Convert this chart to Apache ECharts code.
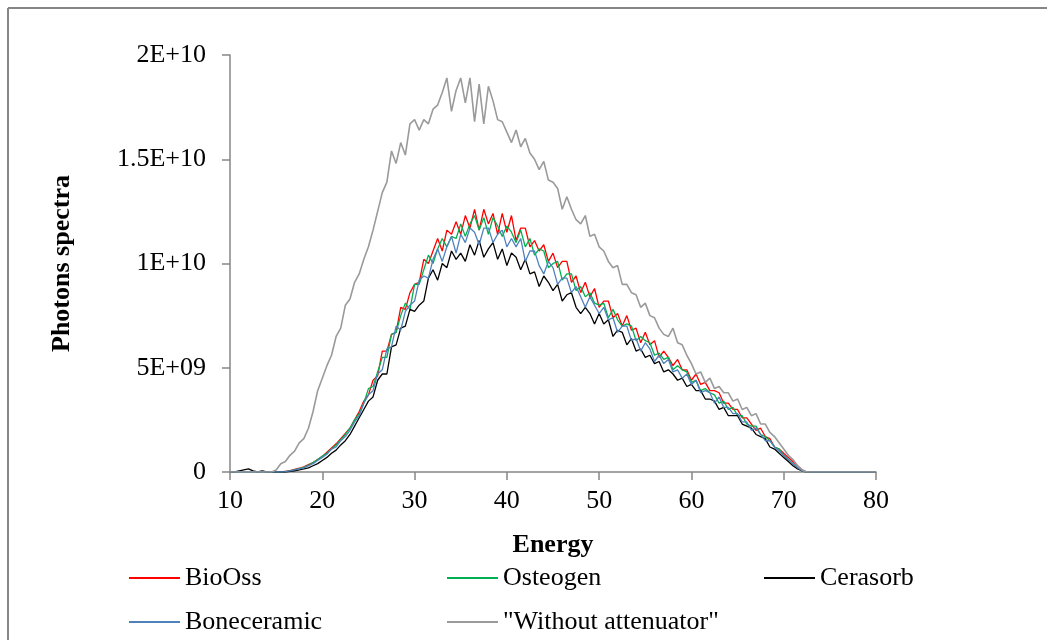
<!DOCTYPE html>
<html>
<head>
<meta charset="utf-8">
<script src="https://cdn.jsdelivr.net/npm/echarts@6/dist/echarts.min.js"></script>
<style>
  html, body { margin: 0; padding: 0; background: #fff; }
  #chart { width: 1047px; height: 640px; }
</style>
</head>
<body>
<div id="chart"></div>
<script>
// energy grid, keV (0.5 keV bins from 10 to 80)
var energy = [];
for (var e = 10; e <= 80; e += 0.5) energy.push(e);

// photon counts, in units of 1E+09, one value per energy bin
var bioOss = [
  0,0,0,0,0,0,0,0,0,0,
  0,0,0.03,0.06,0.12,0.18,0.25,0.35,0.45,0.6,
  0.75,0.95,1.15,1.35,1.6,1.85,2.1,2.5,2.9,3.4,
  3.7,4.4,4.6,5.8,5.8,6.6,6.7,7.9,7.8,8.6,
  9.0,9.1,10.2,10.0,10.6,11.2,10.6,11.6,11.4,12.0,
  11.4,12.3,11.7,12.6,11.6,12.6,11.9,12.4,11.4,12.4,
  11.5,12.3,11.1,11.7,11.7,10.8,11.1,10.6,10.9,10.1,
  10.5,9.8,10.1,10.1,9.1,9.4,8.6,9.1,8.4,8.8,
  7.9,8.2,8.2,7.4,7.6,7.0,7.5,6.8,6.9,6.2,
  6.7,6.1,6.3,5.5,5.8,5.5,5.1,5.4,4.9,4.9,
  4.4,4.7,4.2,4.3,3.9,3.9,3.8,3.3,3.3,3.0,
  3.0,2.6,2.6,2.3,2.0,2.1,1.7,1.6,1.2,1.1,
  0.9,0.7,0.5,0.3,0.1,0,0,0,0,0,
  0,0,0,0,0,0,0,0,0,0,
  0
];
var osteogen = [
  0,0,0,0,0,0,0,0,0,0,
  0,0,0.02,0.05,0.1,0.16,0.22,0.32,0.45,0.6,
  0.75,0.9,1.1,1.3,1.55,1.8,2.1,2.5,2.8,3.3,
  4.0,4.1,4.8,5.5,5.5,6.6,6.7,7.5,8.1,7.8,
  9.0,9.0,9.7,10.4,10.0,10.7,11.2,10.8,11.3,11.2,
  11.9,11.3,11.9,12.3,11.6,12.2,11.4,12.2,11.8,11.3,
  11.8,11.5,11.0,11.6,10.8,11.2,10.4,10.7,10.6,9.8,
  10.0,10.1,9.2,9.5,9.5,8.7,8.9,8.4,8.6,8.1,
  8.0,8.1,7.4,7.8,7.3,7.0,7.1,7.0,6.3,6.5,
  6.3,6.2,5.6,5.7,5.4,5.5,4.9,5.1,4.9,4.8,
  4.3,4.4,3.9,4.0,3.8,3.7,3.3,3.4,3.0,3.1,
  2.7,2.7,2.3,2.2,2.2,1.8,1.7,1.5,1.2,1.1,
  0.8,0.6,0.4,0.2,0.05,0,0,0,0,0,
  0,0,0,0,0,0,0,0,0,0,
  0
];
var cerasorb = [
  0,0,0.05,0.1,0.15,0.05,0,0.05,0,0,
  0,0,0,0.03,0.06,0.1,0.15,0.2,0.3,0.4,
  0.55,0.7,0.9,1.05,1.3,1.5,1.8,2.2,2.6,3.0,
  3.4,3.6,4.4,4.7,4.7,6.0,6.1,6.9,7.0,7.8,
  7.7,8.0,8.2,9.3,9.7,9.2,10.0,9.8,10.6,10.2,
  10.5,10.1,10.9,10.4,11.1,10.3,10.7,11.0,10.2,10.7,
  9.9,10.5,10.3,9.7,10.2,9.5,9.6,8.9,9.4,9.1,
  8.7,9.0,8.2,8.5,8.6,7.9,7.6,7.9,7.6,7.1,
  7.6,7.1,7.3,6.5,6.8,6.7,6.1,6.4,5.8,5.9,
  5.5,5.6,5.2,5.3,4.8,4.9,4.7,4.4,4.5,4.1,
  4.2,3.9,3.9,3.5,3.5,3.4,3.0,3.1,2.7,2.7,
  2.7,2.3,2.2,2.1,1.8,1.7,1.6,1.2,1.1,0.9,
  0.7,0.5,0.3,0.15,0.05,0,0,0,0,0,
  0,0,0,0,0,0,0,0,0,0,
  0
];
var boneceramic = [
  0,0,0,0,0,0,0,0,0,0,
  0,0,0.02,0.05,0.1,0.15,0.2,0.3,0.4,0.55,
  0.7,0.85,1.1,1.2,1.5,1.7,2.0,2.4,2.7,3.3,
  3.7,3.9,4.7,4.9,5.9,6.0,7.0,6.8,7.7,8.0,
  8.2,9.2,9.4,9.3,10.2,10.7,10.1,10.8,11.3,10.5,
  11.4,11.0,11.7,11.5,10.9,11.7,11.7,11.0,11.4,11.6,
  10.8,11.2,10.8,11.2,10.1,10.6,10.6,9.9,9.5,10.1,
  9.8,9.0,9.3,9.3,8.6,8.9,8.4,7.9,8.4,8.0,
  7.6,7.9,7.3,7.4,6.7,7.0,7.0,6.3,6.4,5.8,
  6.2,5.9,5.3,5.6,5.2,5.4,4.8,4.9,4.5,4.7,
  4.2,4.4,3.8,3.9,3.8,3.3,3.6,3.1,3.1,2.8,
  2.8,2.4,2.4,2.0,2.1,1.8,1.5,1.5,1.2,1.0,
  0.8,0.6,0.4,0.2,0.05,0,0,0,0,0,
  0,0,0,0,0,0,0,0,0,0,
  0
];
var withoutAtt = [
  0,0,0,0,0,0,0,0,0,0,
  0.1,0.4,0.5,0.8,1.0,1.4,1.6,2.1,2.9,3.9,
  4.5,5.1,5.6,6.5,6.9,8.0,8.3,9.1,9.5,10.2,
  10.8,11.6,12.5,13.4,13.9,15.4,14.8,15.8,15.2,16.7,
  16.9,16.4,16.9,16.7,17.4,17.6,18.2,18.9,17.3,18.3,
  18.9,17.7,18.9,16.8,18.6,16.7,18.5,17.8,16.9,16.8,
  16.3,15.8,16.4,15.6,16.0,15.3,15.0,14.5,14.9,14.0,
  13.9,13.6,12.6,13.2,12.6,12.1,11.9,12.3,11.3,11.4,
  10.8,10.6,10.1,9.8,9.9,9.0,9.0,8.6,8.5,7.9,
  8.1,7.5,7.4,6.9,6.6,6.5,6.9,6.2,6.1,5.6,
  5.2,4.7,4.8,4.3,4.5,4.0,4.1,3.8,3.8,3.4,
  3.5,3.0,3.1,2.7,2.8,2.3,2.3,1.9,1.7,1.4,
  1.1,0.8,0.6,0.3,0.1,0,0,0,0,0,
  0,0,0,0,0,0,0,0,0,0,
  0
];

var seriesNames = ['BioOss', 'Osteogen', 'Cerasorb', 'Boneceramic', '"Without attenuator"'];
var seriesData = [bioOss, osteogen, cerasorb, boneceramic, withoutAtt];
var seriesColors = ['#ff0000', '#00b050', '#000000', '#4f81bd', '#9a9a9a'];
var yTickLabels = { 0: '0', 5: '5E+09', 10: '1E+10', 15: '1.5E+10', 20: '2E+10' };

var FONT = "'Liberation Serif', 'Times New Roman', serif";
var AXIS_GREY = '#868686';

function pairs(arr) {
  return arr.map(function (v, i) { return [energy[i], v * 1e9]; });
}

var chart = echarts.init(document.getElementById('chart'));

// legend boxes: two rows, three columns
var legendSlots = [[129, 565], [447, 565], [764, 565], [129, 609], [447, 609]];
var legends = seriesNames.map(function (name, i) {
  return {
    data: [name],
    left: legendSlots[i][0],
    top: legendSlots[i][1],
    padding: 0,
    icon: 'rect',
    itemWidth: 51,
    itemHeight: 2,
    selectedMode: false,
    textStyle: { fontFamily: FONT, fontSize: 26, color: '#000' }
  };
});

var option = {
  animation: false,
  backgroundColor: '#fff',
  grid: { left: 230, right: 171, top: 55, bottom: 168 },
  legend: legends,
  graphic: [
    { type: 'line', shape: { x1: 8, y1: 8, x2: 1047, y2: 8 }, style: { stroke: AXIS_GREY, lineWidth: 2 } },
    { type: 'line', shape: { x1: 8, y1: 8, x2: 8, y2: 640 }, style: { stroke: AXIS_GREY, lineWidth: 2 } }
  ],
  xAxis: {
    type: 'value',
    min: 10,
    max: 80,
    interval: 10,
    name: 'Energy',
    nameLocation: 'middle',
    nameGap: 60,
    nameTextStyle: { fontFamily: FONT, fontSize: 26, fontWeight: 'bold', color: '#000' },
    axisLine: { lineStyle: { color: AXIS_GREY, width: 1.5 } },
    axisTick: { show: true, length: 8, lineStyle: { color: AXIS_GREY, width: 1.5 } },
    axisLabel: { fontFamily: FONT, fontSize: 26, color: '#000', margin: 16 },
    splitLine: { show: false }
  },
  yAxis: {
    type: 'value',
    min: 0,
    max: 2e10,
    interval: 5e9,
    name: 'Photons spectra',
    nameLocation: 'middle',
    nameGap: 155,
    nameRotate: 90,
    nameTextStyle: { fontFamily: FONT, fontSize: 26, fontWeight: 'bold', color: '#000' },
    axisLine: { show: true, lineStyle: { color: AXIS_GREY, width: 1.5 } },
    axisTick: { show: true, length: 8, lineStyle: { color: AXIS_GREY, width: 1.5 } },
    axisLabel: {
      fontFamily: FONT, fontSize: 26, color: '#000', margin: 24,
      formatter: function (v) { return yTickLabels[Math.round(v / 1e9)]; }
    },
    splitLine: { show: false }
  },
  series: seriesNames.map(function (name, i) {
    return {
      name: name,
      type: 'line',
      data: pairs(seriesData[i]),
      showSymbol: false,
      color: seriesColors[i],
      lineStyle: { width: i === 4 ? 1.6 : 1.3, color: seriesColors[i] },
      emphasis: { disabled: true }
    };
  })
};
chart.setOption(option);
</script>
</body>
</html>
